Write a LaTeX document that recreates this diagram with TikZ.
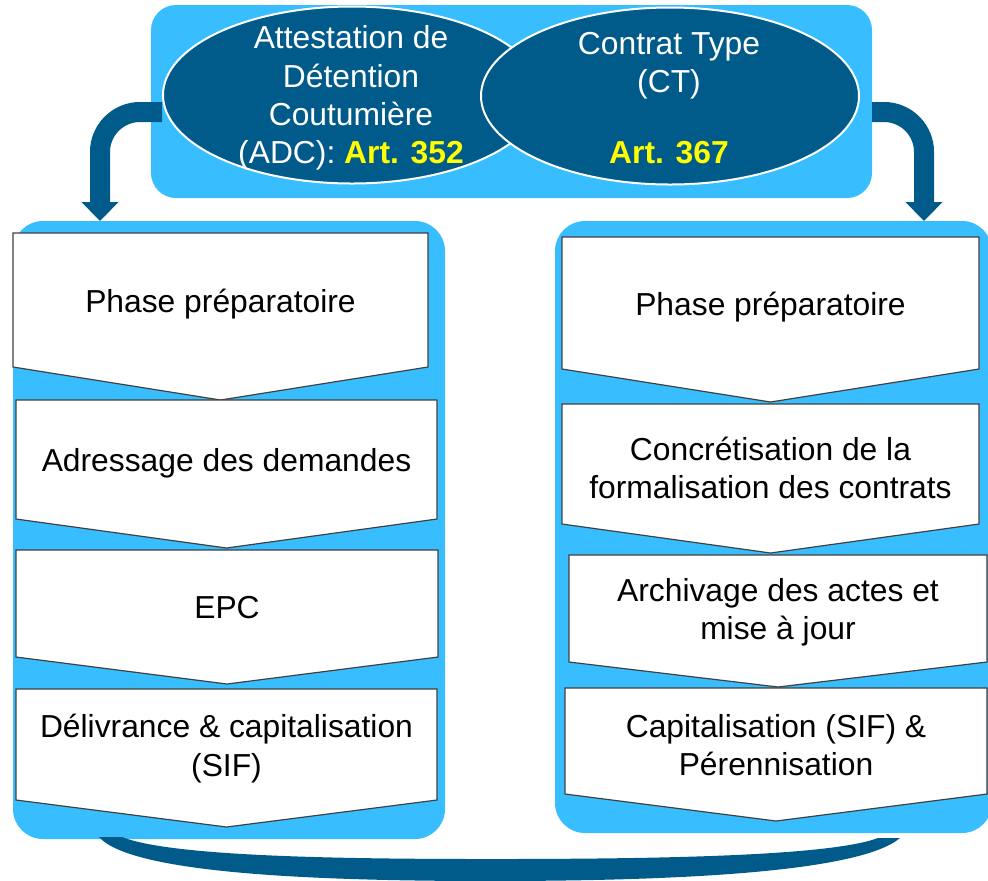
\documentclass[tikz,border=0pt]{standalone}
\usepackage{fontspec}
\setmainfont{Liberation Sans}
\usetikzlibrary{shapes.geometric,arrows.meta}
\definecolor{skyblue}{RGB}{56,190,255}
\definecolor{navyblue}{RGB}{0,90,138}
\definecolor{artyellow}{RGB}{255,255,0}

\begin{document}
\begin{tikzpicture}[x=0.5pt, y=-0.5pt]
    \tikzstyle{panel}=[rectangle, fill=skyblue, inner sep=0pt, outer sep=0pt]
    \tikzstyle{oval}=[ellipse, fill=navyblue, draw=white, line width=1pt,
        minimum width=189pt, minimum height=88.5pt, inner sep=0pt]
    \tikzstyle{ovaltext}=[align=center, text=white, font=\fontsize{15.9}{19.2}\selectfont]
    \tikzstyle{chevron}=[fill=white, draw=black!75, line width=0.6pt]
    \tikzstyle{stagetext}=[align=center, font=\fontsize{15.9}{19.2}\selectfont]
    \tikzstyle{bigarrow}=[navyblue, line width=10pt, rounded corners=20pt,
        -{Triangle[width=18pt, length=9.5pt]}]

    \useasboundingbox (0,0) rectangle (988,880);

    \node [panel, rounded corners=12.5pt, minimum width=360.5pt,
        minimum height=96.5pt] (top) at (511.5,101.5) {};
    \node [panel, rounded corners=15pt, minimum width=216pt,
        minimum height=309pt] (adcpanel) at (229,530) {};
    \node [panel, rounded corners=15pt, minimum width=218.5pt,
        minimum height=306pt] (ctpanel) at (773.5,527) {};

    \node [oval] (adc) at (352,95) {};
    \node [oval] (ct) at (670,96) {};
    \node [ovaltext] (adctext) at (351,98)
        {Attestation de\\Détention\\Coutumière\\(ADC): \textcolor{artyellow}{\bfseries Art. 352}};
    \node [ovaltext] (cttext) at (669,98)
        {Contrat Type\\(CT)\\[16pt]\textcolor{artyellow}{\bfseries Art. 367}};

    \draw [bigarrow] ([yshift=-8.5pt]adc.west) -| ([xshift=43.5pt]adcpanel.north west);
    \draw [bigarrow] ([yshift=-5.25pt]top.east) -| ([xshift=-34pt]ctpanel.north east);

    \foreach \name/\l/\r/\t/\b/\tip/\txt in {
        adc1/13/428/233/367/400/{Phase préparatoire},
        adc2/16/437/400/519/548/{Adressage des demandes},
        adc3/16/438/550/657/684/{EPC},
        adc4/16/437/689/800/827/{Délivrance \& capitalisation\\(SIF)},
        ct1/562/979/237/369/402/{Phase préparatoire},
        ct2/562/979/404/524/553/{Concrétisation de la\\formalisation des contrats},
        ct3/569/987/555/662/687/{Archivage des actes et\\mise à jour},
        ct4/565/987/688/794/821/{Capitalisation (SIF) \&\\Pérennisation}}
    {
        \draw [chevron] (\l,\t) -- (\r,\t) -- (\r,\b) -- ({(\l+\r)/2},\tip)
            -- (\l,\b) -- cycle;
        \node [stagetext] (\name) at ({(\l+\r)/2},{(\t+\b)/2+4}) {\txt};
    }

    \fill [navyblue] (99,837) -- (122,837)
        .. controls (170,856) and (330,859) .. (490,859)
        .. controls (660,859) and (830,856) .. (878,838) -- (900,838)
        .. controls (860,872) and (680,881) .. (490,881)
        .. controls (300,881) and (130,872) .. (99,837) -- cycle;
\end{tikzpicture}
\end{document}
